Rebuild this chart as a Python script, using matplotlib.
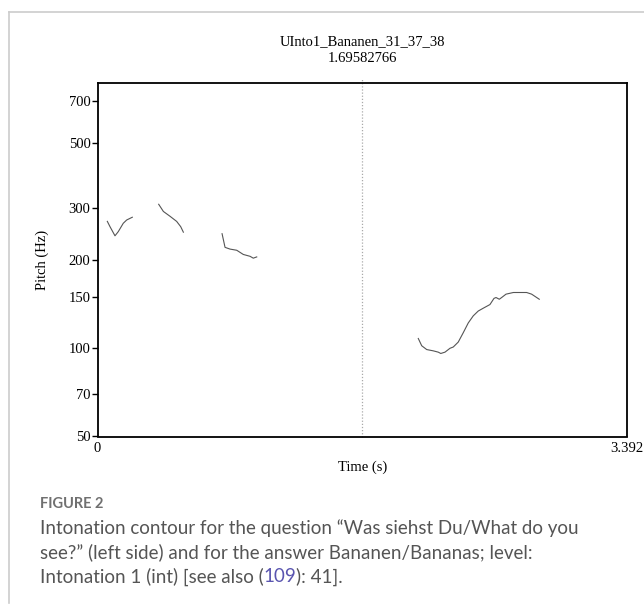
import numpy as np
import matplotlib.pyplot as plt
from matplotlib.lines import Line2D

# pitch contour pieces (time s, pitch Hz)
seg1_t = [0.063, 0.080, 0.112, 0.133, 0.165, 0.187, 0.223]
seg1_f = [271, 260, 242, 250, 267, 274, 280]
seg2_t = [0.392, 0.422, 0.465, 0.507, 0.533, 0.550]
seg2_f = [310, 293, 282, 271, 260, 249]
seg3_t = [0.798, 0.817, 0.849, 0.892, 0.934, 0.977, 0.998, 1.020]
seg3_f = [246, 221, 218, 216, 209, 206, 203, 205]
seg4_t = [2.055, 2.077, 2.109, 2.151, 2.183, 2.199, 2.226, 2.258, 2.279, 2.311,
          2.343, 2.375, 2.407, 2.439, 2.471, 2.514, 2.540, 2.553, 2.574, 2.589,
          2.617, 2.664, 2.749, 2.781, 2.830]
seg4_f = [108, 102, 99, 98, 97, 96, 97, 100, 101, 105,
          113, 122, 129, 134, 137, 141, 148, 149, 147, 149,
          153, 155, 155, 153, 147]

segments = [(seg1_t, seg1_f), (seg2_t, seg2_f), (seg3_t, seg3_f), (seg4_t, seg4_f)]

T_END = 3.392
CURSOR = 1.69582766
yticks = [50, 70, 100, 150, 200, 300, 500, 700]

serif = "Liberation Serif"

fig = plt.figure(figsize=(6.44, 6.06), dpi=100)
ax = fig.add_axes([97.5 / 644, 1 - 436.5 / 606, 529.5 / 644, 353.2 / 606])

for t, f in segments:
    ax.plot(t, f, color="#555555", lw=0.8)

ax.axvline(CURSOR, ymin=0, ymax=1.015, color="#aaaaaa", lw=0.9, ls=(0, (1, 1.5)),
           clip_on=False)

ax.set_yscale("log")
ax.set_ylim(50, 802)
ax.set_xlim(0, T_END)
ax.set_yticks(yticks)
ax.set_yticklabels([str(v) for v in yticks], family=serif, fontsize=10.5)
ax.yaxis.set_minor_locator(plt.NullLocator())
ax.set_xticks([0, T_END])
ax.set_xticklabels(["0", "3.392"], family=serif, fontsize=10.5)
ax.tick_params(axis="y", length=4, width=1, pad=1)
ax.tick_params(axis="x", length=0, pad=4)
for sp in ax.spines.values():
    sp.set_linewidth(1.3)

ax.set_xlabel("Time (s)", family=serif, fontsize=10.5, labelpad=4)
ax.set_ylabel("Pitch (Hz)", family=serif, fontsize=10.5, labelpad=14)

fig.text(362 / 644, 1 - 42 / 606, "UInto1_Bananen_31_37_38", family=serif,
         fontsize=10.5, ha="center", va="center")
fig.text(362 / 644, 1 - 59 / 606, "1.69582766", family=serif,
         fontsize=10.5, ha="center", va="center")

# outer frame of the figure panel
frame_col = "#cccccc"
fig.add_artist(Line2D([9 / 644, 1.0], [1 - 12 / 606, 1 - 12 / 606],
                      color=frame_col, lw=1.2, transform=fig.transFigure))
fig.add_artist(Line2D([9 / 644, 9 / 644], [1 - 12 / 606, 1 - 603 / 606],
                      color=frame_col, lw=1.2, transform=fig.transFigure))

# caption
cap_font = ["Lato", "DejaVu Sans"]
cap_size = 13.5
fig.text(40 / 644, 1 - 504 / 606, "FIGURE 2", family=cap_font, fontsize=10.5,
         weight="bold", color="#707070", va="center")
cap_lines = [
    "Intonation contour for the question \u201cWas siehst Du/What do you",
    "see?\u201d (left side) and for the answer Bananen/Bananas; level:",
]
for i, line in enumerate(cap_lines):
    fig.text(40 / 644, 1 - (528 + 24.5 * i) / 606, line, family=cap_font,
             fontsize=cap_size, color="#555555", va="center")
y3 = 1 - 577 / 606
t1 = fig.text(40 / 644, y3, "Intonation 1 (int) [see also (", family=cap_font,
              fontsize=cap_size, color="#555555", va="center")
fig.canvas.draw()
bb = t1.get_window_extent()
x2 = bb.x1 / fig.bbox.width
t2 = fig.text(x2, y3, "109", family=cap_font, fontsize=cap_size, color="#5a55b0",
              va="center")
bb2 = t2.get_window_extent()
fig.text(bb2.x1 / fig.bbox.width, y3, "): 41].", family=cap_font, fontsize=cap_size,
         color="#555555", va="center")

fig.savefig("out.png", dpi=100)
